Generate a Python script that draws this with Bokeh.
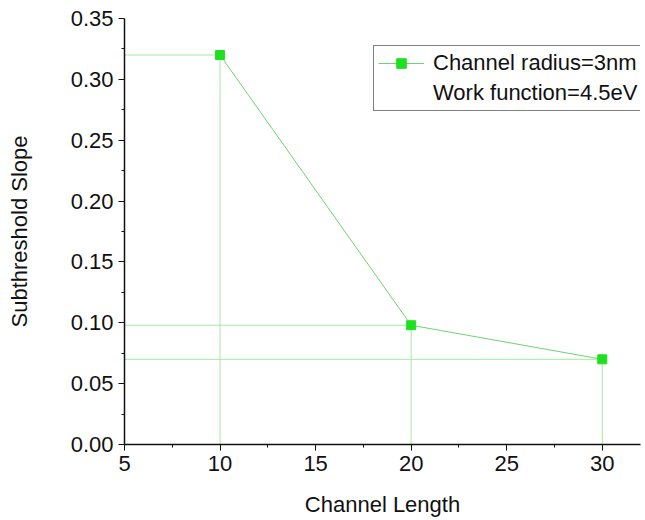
from bokeh.plotting import figure
from bokeh.models import Range1d, Legend, LegendItem, FixedTicker
from bokeh.embed import file_html
from bokeh.resources import INLINE

# Subthreshold slope versus channel length
channel_length = [10, 20, 30]
subthreshold_slope = [0.32, 0.098, 0.07]
x_ticks = [5, 10, 15, 20, 25, 30]
y_ticks = [0.0, 0.05, 0.10, 0.15, 0.20, 0.25, 0.30, 0.35]
legend_lines = ["Channel radius=3nm", "Work function=4.5eV"]

FONT = "Liberation Sans"
MARK = "#1fe01f"
LINE = "#6fd36f"
DROP = "#a6e8a6"

p = figure(width=645, height=520, output_backend="svg", toolbar_location=None,
           x_range=Range1d(5, 32), y_range=Range1d(0, 0.35),
           min_border_left=124, min_border_right=5, min_border_top=18,
           min_border_bottom=76)
p.outline_line_color = None
p.xgrid.visible = False
p.ygrid.visible = False

# drop lines from each point to the axes
x_min = p.x_range.start
p.segment(x0=[x_min] * len(channel_length), y0=subthreshold_slope,
          x1=channel_length, y1=subthreshold_slope, line_color=DROP, line_width=1)
p.segment(x0=channel_length, y0=[0] * len(channel_length),
          x1=channel_length, y1=subthreshold_slope, line_color=DROP, line_width=1)

ln = p.line(channel_length, subthreshold_slope, line_color=LINE, line_width=1)
sq = p.scatter(channel_length, subthreshold_slope, marker="square", size=9,
               fill_color=MARK, line_color=MARK)
blank = p.scatter([x_min], [0], marker="square", size=1, alpha=0)

legend = Legend(items=[LegendItem(label=legend_lines[0], renderers=[ln, sq]),
                       LegendItem(label=legend_lines[1], renderers=[blank])],
                location=(249, 333))
legend.label_text_font = FONT
legend.label_text_font_size = "22px"
legend.label_text_color = "#111111"
legend.label_height = 24
legend.glyph_height = 24
legend.glyph_width = 46
legend.spacing = 4
legend.padding = 4
legend.margin = 0
legend.label_standoff = 9
legend.border_line_color = "#000000"
legend.border_line_width = 1
legend.background_fill_alpha = 1
p.add_layout(legend)

for ax in (p.xaxis[0], p.yaxis[0]):
    ax.axis_line_color = "#111111"
    ax.axis_line_width = 1.5
    ax.major_tick_line_color = "#111111"
    ax.minor_tick_line_color = "#111111"
    ax.major_tick_out = 6
    ax.major_tick_in = 0
    ax.minor_tick_out = 3
    ax.minor_tick_in = 0
    ax.major_label_text_font = FONT
    ax.major_label_text_font_size = "22px"
    ax.major_label_text_color = "#111111"
    ax.axis_label_text_font = FONT
    ax.axis_label_text_font_size = "22px"
    ax.axis_label_text_font_style = "normal"
    ax.axis_label_text_color = "#111111"

p.xaxis.ticker = FixedTicker(ticks=x_ticks, minor_ticks=[7.5, 12.5, 17.5, 22.5, 27.5])
p.yaxis.ticker = FixedTicker(ticks=y_ticks,
                             minor_ticks=[0.025, 0.075, 0.125, 0.175, 0.225, 0.275, 0.325])
p.yaxis.major_label_overrides = {t: f"{t:.2f}" for t in y_ticks}
p.xaxis.axis_label = "Channel Length"
p.yaxis.axis_label = "Subthreshold Slope"
p.xaxis.axis_label_standoff = 18
p.yaxis.axis_label_standoff = 36

open("out.html", "w").write(file_html(p, INLINE))
